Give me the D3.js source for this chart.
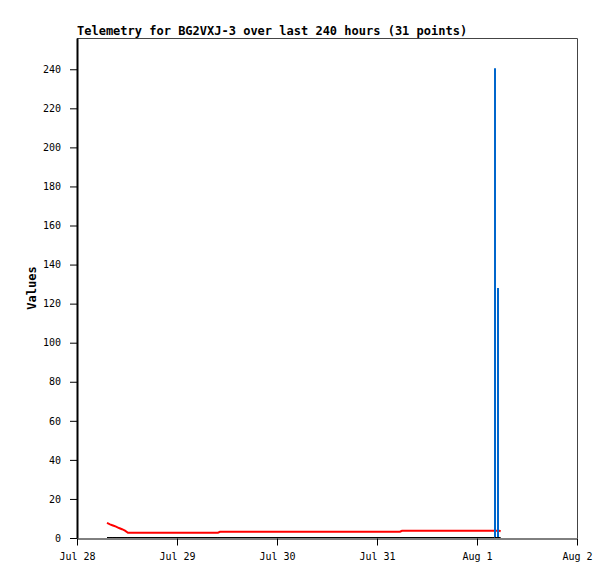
<!DOCTYPE html>
<html>
<head>
<meta charset="utf-8">
<script src="https://cdn.jsdelivr.net/npm/d3@7"></script>
<style>
  body { margin: 0; background: #fff; }
  svg { display: block; }
</style>
</head>
<body>
<svg id="chart" width="615" height="579"></svg>
<script>
// telemetry samples (time, value)
var times = [
    "2023-07-28 07:12", "2023-07-28 07:55", "2023-07-28 08:38", "2023-07-28 09:22",
    "2023-07-28 10:05", "2023-07-28 10:48", "2023-07-28 11:31", "2023-07-28 12:14",
    "2023-07-28 19:12", "2023-07-29 02:24", "2023-07-29 09:50", "2023-07-29 10:19",
    "2023-07-29 16:48", "2023-07-30 00:00", "2023-07-30 07:12", "2023-07-30 14:24",
    "2023-07-30 21:36", "2023-07-31 05:31", "2023-07-31 06:00", "2023-07-31 12:00",
    "2023-07-31 18:00", "2023-07-31 22:48", "2023-08-01 01:12", "2023-08-01 02:53",
    "2023-08-01 03:50", "2023-08-01 04:12", "2023-08-01 04:34", "2023-08-01 05:02",
    "2023-08-01 05:17", "2023-08-01 05:31", "2023-08-01 05:41"
];
var redValues = [
    7.7, 7.0, 6.4, 5.8, 5.1, 4.5, 3.8, 2.7,
    2.7, 2.7, 2.7, 3.2, 3.2, 3.2, 3.2, 3.2,
    3.2, 3.2, 3.7, 3.7, 3.7, 3.7, 3.7, 3.7,
    3.7, 3.7, 3.7, 3.7, 3.7, 3.6, 3.5
];
var blackValues = [
    0, 0, 0, 0, 0, 0, 0, 0, 0, 0, 0, 0, 0, 0, 0, 0,
    0, 0, 0, 0, 0, 0, 0, 0, 0, 0, 0, 0, 0, 0, 0
];
var spikeTimes = ["2023-08-01 04:19", "2023-08-01 05:02"];
var spikeValues = [240.5, 128];

var yTicks = [0, 20, 40, 60, 80, 100, 120, 140, 160, 180, 200, 220, 240];
var xTicks = ["2023-07-28", "2023-07-29", "2023-07-30", "2023-07-31", "2023-08-01", "2023-08-02"];
var titleText = "Telemetry for BG2VXJ-3 over last 240 hours (31 points)";
var yLabel = "Values";

var parseTime = d3.timeParse("%Y-%m-%d %H:%M");
var parseDay = d3.timeParse("%Y-%m-%d");
var fmt = d3.timeFormat("%b %-d");

var svg = d3.select("#chart");
var plotL = 77, plotR = 577, plotT = 38, plotB = 538;
var mono = "'DejaVu Sans Mono', 'Liberation Mono', monospace";

var x = d3.scaleTime()
    .domain([parseDay(xTicks[0]), parseDay(xTicks[xTicks.length - 1])])
    .range([plotL, plotR]);
var y = d3.scaleLinear().domain([0, 256]).range([plotB, plotT]);

// frame top/right
svg.append("path")
    .attr("d", `M ${plotL} ${plotT + 0.5} H ${plotR + 0.5} V ${plotB}`)
    .attr("fill", "none")
    .attr("stroke", "#444")
    .attr("stroke-width", 1);

var yAxis = svg.append("g")
    .attr("transform", `translate(${plotL},0)`)
    .call(d3.axisLeft(y).tickValues(yTicks).tickSize(7).tickPadding(9).tickSizeOuter(0));
var xAxis = svg.append("g")
    .attr("transform", `translate(0,${plotB + 0.5})`)
    .call(d3.axisBottom(x).tickValues(xTicks.map(parseDay)).tickFormat(fmt)
        .tickSize(7).tickPadding(7).tickSizeOuter(0));

[yAxis, xAxis].forEach(function(g) {
    g.selectAll("text")
        .attr("font-family", mono)
        .attr("font-size", 10)
        .attr("fill", "#000");
    g.selectAll(".tick line").attr("stroke", "#000");
});
yAxis.select(".domain").attr("stroke", "#000").attr("stroke-width", 2);
xAxis.select(".domain").attr("stroke", "#000").attr("stroke-width", 1);

// series
var pts = times.map(function(t, i) {
    return {t: parseTime(t), red: redValues[i], black: blackValues[i]};
});

svg.append("path")
    .datum(pts)
    .attr("fill", "none")
    .attr("stroke", "#000")
    .attr("stroke-width", 1)
    .attr("d", d3.line().x(d => x(d.t)).y(d => y(d.black) - 0.5));

svg.append("path")
    .datum(pts)
    .attr("fill", "none")
    .attr("stroke", "#ff0000")
    .attr("stroke-width", 2)
    .attr("d", d3.line().x(d => x(d.t)).y(d => y(d.red)));

svg.selectAll(".spike")
    .data(spikeTimes.map((t, i) => ({t: parseTime(t), v: spikeValues[i]})))
    .enter()
    .append("line")
    .attr("class", "spike")
    .attr("x1", d => Math.round(x(d.t)))
    .attr("x2", d => Math.round(x(d.t)))
    .attr("y1", y(0) - 1)
    .attr("y2", d => y(d.v))
    .attr("stroke", "#0066cc")
    .attr("stroke-width", 2);

svg.append("text")
    .attr("x", plotL)
    .attr("y", 35)
    .attr("font-family", mono)
    .attr("font-size", 12)
    .attr("font-weight", "bold")
    .text(titleText);

svg.append("text")
    .attr("transform", `translate(36,${(plotT + plotB) / 2}) rotate(-90)`)
    .attr("text-anchor", "middle")
    .attr("font-family", mono)
    .attr("font-size", 12)
    .attr("font-weight", "bold")
    .text(yLabel);
</script>
</body>
</html>
